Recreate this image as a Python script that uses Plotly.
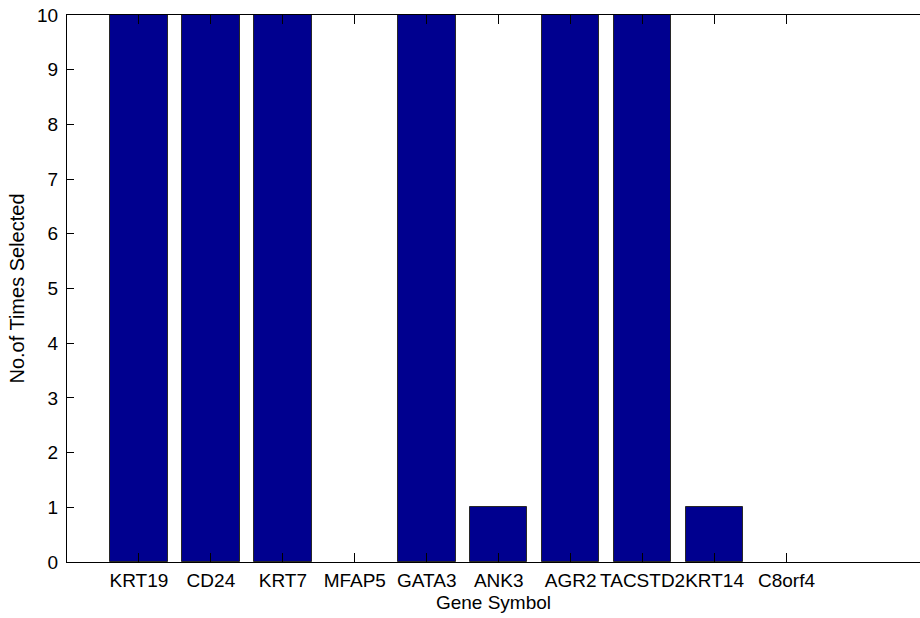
import plotly.graph_objects as go

genes = ["KRT19", "CD24", "KRT7", "MFAP5", "GATA3", "ANK3", "AGR2", "TACSTD2", "KRT14", "C8orf4"]
times_selected = [10, 10, 10, 0, 10, 1, 10, 10, 1, 0]
positions = list(range(1, len(genes) + 1))
y_ticks = list(range(0, 11))

FONT = "Liberation Sans, Arial, sans-serif"

edge_widths = [1 if v > 0 else 0 for v in times_selected]

fig = go.Figure()
fig.add_trace(go.Bar(
    x=positions,
    y=times_selected,
    width=0.8,
    marker=dict(color="rgb(0,0,143)", line=dict(color="rgb(40,40,40)", width=edge_widths)),
))

fig.update_layout(
    width=920, height=618,
    margin=dict(l=67, r=0, t=15, b=56),
    paper_bgcolor="white", plot_bgcolor="white",
    font=dict(family=FONT, size=19, color="black"),
    showlegend=False,
    bargap=0,
)
fig.update_xaxes(
    range=[0, 853 / 71.95],
    tickmode="array", tickvals=positions, ticktext=genes,
    tickangle=0,
    ticks="inside", ticklen=9, tickwidth=1, tickcolor="black",
    showline=True, linecolor="black", linewidth=1, mirror="allticks",
    showgrid=False, zeroline=False,
    ticklabelstandoff=1,
    title=dict(text="Gene Symbol", font=dict(size=19), standoff=5),
)
fig.update_yaxes(
    range=[0, 10],
    tickmode="array", tickvals=y_ticks,
    ticks="inside", ticklen=7, tickwidth=1, tickcolor="black",
    showline=True, linecolor="black", linewidth=1, mirror=False,
    showgrid=False, zeroline=False,
    ticklabelstandoff=4,
    title=dict(text="No.of Times Selected", font=dict(size=20), standoff=7),
)

fig.write_html("out.html")
